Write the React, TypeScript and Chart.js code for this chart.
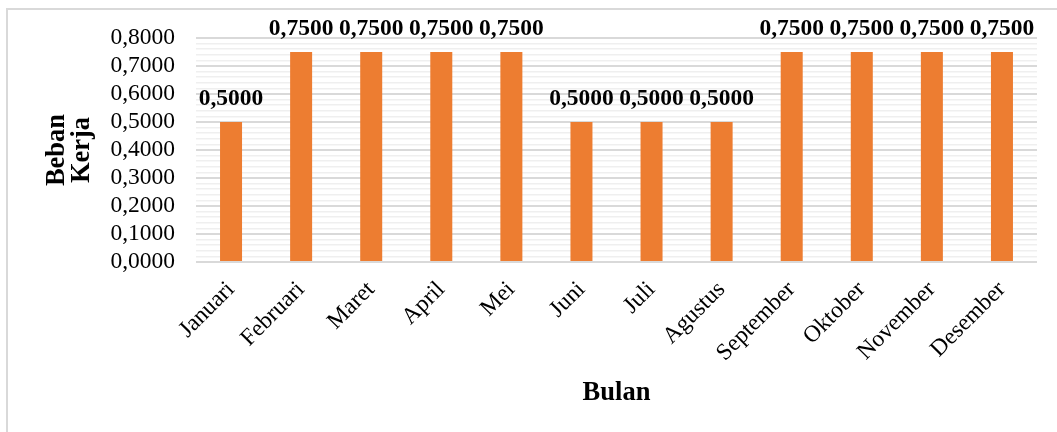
import React, { useEffect, useRef } from 'react';
import { Chart, registerables } from 'chart.js';

Chart.register(...registerables);

// Monthly workload (Beban Kerja) per month (Bulan)
const MONTHS = [
  'Januari', 'Februari', 'Maret', 'April', 'Mei', 'Juni',
  'Juli', 'Agustus', 'September', 'Oktober', 'November', 'Desember',
];
const BEBAN_KERJA = [0.5, 0.75, 0.75, 0.75, 0.75, 0.5, 0.5, 0.5, 0.75, 0.75, 0.75, 0.75];
const Y_TICK_LABELS = [
  '0,0000', '0,1000', '0,2000', '0,3000', '0,4000',
  '0,5000', '0,6000', '0,7000', '0,8000',
];
const Y_MIN = 0;
const Y_MAX = 0.8;
const MINOR_STEP = 0.02;
const MINOR_PER_MAJOR = 5;

const FONT = "'Liberation Serif', 'Times New Roman', serif";
const BAR_COLOR = '#ED7D31';

const formatValue = (v: number) => v.toFixed(4).replace('.', ',');

// White background and the thin outer frame
const framePlugin = {
  id: 'frame',
  beforeDraw(chart: any) {
    const { ctx, width, height } = chart;
    ctx.save();
    ctx.fillStyle = '#ffffff';
    ctx.fillRect(0, 0, width, height);
    ctx.strokeStyle = '#d9d9d9';
    ctx.lineWidth = 2;
    ctx.beginPath();
    ctx.moveTo(7, height + 2);
    ctx.lineTo(7, 9);
    ctx.lineTo(width + 2, 9);
    ctx.stroke();
    ctx.restore();
  },
};

// Bold value labels above each bar
const valueLabelPlugin = {
  id: 'valueLabels',
  afterDatasetsDraw(chart: any) {
    const { ctx } = chart;
    const meta = chart.getDatasetMeta(0);
    const values = chart.data.datasets[0].data as number[];
    ctx.save();
    ctx.font = `bold 23.5px ${FONT}`;
    ctx.fillStyle = '#000000';
    ctx.textAlign = 'center';
    ctx.textBaseline = 'alphabetic';
    meta.data.forEach((bar: any, i: number) => {
      ctx.fillText(formatValue(values[i]), bar.x, bar.y - 17);
    });
    ctx.restore();
  },
};

export default function App() {
  const canvasRef = useRef<HTMLCanvasElement | null>(null);

  useEffect(() => {
    const canvas = canvasRef.current;
    if (!canvas) return;
    const chart = new Chart(canvas, {
      type: 'bar',
      data: {
        labels: MONTHS,
        datasets: [
          {
            label: 'Beban Kerja',
            data: BEBAN_KERJA,
            backgroundColor: BAR_COLOR,
            borderWidth: 0,
            categoryPercentage: 1,
            barPercentage: 0.314,
          },
        ],
      },
      options: {
        responsive: false,
        animation: false,
        devicePixelRatio: 1,
        layout: { padding: { left: 0, top: 38, right: 20, bottom: 0 } },
        plugins: {
          legend: { display: false },
          tooltip: { enabled: false },
        },
        scales: {
          x: {
            grid: { display: false },
            border: { display: false },
            ticks: {
              minRotation: 45,
              maxRotation: 45,
              autoSkip: false,
              padding: 6,
              color: '#000000',
              font: { family: FONT, size: 23.5 },
            },
            title: {
              display: true,
              text: 'Bulan',
              color: '#000000',
              font: { family: FONT, size: 26.5, weight: 'bold' },
              padding: { top: 0, bottom: 23 },
            },
            afterFit: (scale: any) => {
              scale.height = 170;
            },
          },
          y: {
            min: Y_MIN,
            max: Y_MAX,
            border: { display: false },
            grid: {
              drawTicks: false,
              color: (c: any) => (c.index % MINOR_PER_MAJOR === 0 ? '#d9d9d9' : '#efefef'),
              lineWidth: (c: any) => (c.index % MINOR_PER_MAJOR === 0 ? 2 : 1.5),
            },
            ticks: {
              stepSize: MINOR_STEP,
              autoSkip: false,
              padding: 21,
              color: '#000000',
              font: { family: FONT, size: 23.5 },
              callback: (_v: any, i: number) =>
                i % MINOR_PER_MAJOR === 0 ? Y_TICK_LABELS[i / MINOR_PER_MAJOR] : '',
            },
            title: {
              display: true,
              text: ['Beban', 'Kerja'],
              color: '#000000',
              font: { family: FONT, size: 26.5, weight: 'bold', lineHeight: 0.93 },
              padding: { top: 45, bottom: 0 },
            },
            afterFit: (scale: any) => {
              scale.width = 196;
            },
          },
        },
      },
      plugins: [framePlugin, valueLabelPlugin],
    });
    return () => chart.destroy();
  }, []);

  return (
    <div style={{ position: 'absolute', left: 0, top: 0, width: 1057, height: 432 }}>
      <canvas ref={canvasRef} width={1057} height={432} style={{ width: 1057, height: 432, display: 'block' }} />
    </div>
  );
}
